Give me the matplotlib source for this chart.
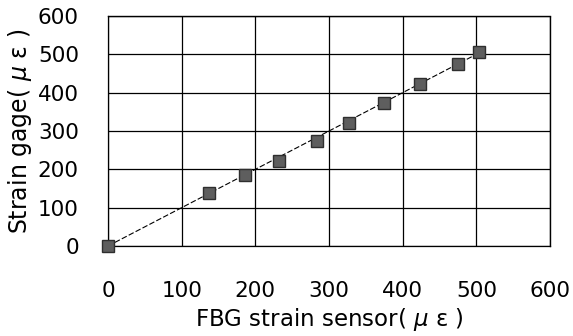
import matplotlib
matplotlib.use("Agg")
import matplotlib.pyplot as plt

# FBG strain sensor readings vs strain gage readings (micro-strain)
fbg_strain = [0, 137, 186, 232, 284, 327, 375, 424, 475, 503]
gage_strain = [0, 138, 185, 222, 274, 321, 373, 423, 475, 506]

# trend line end points
trend_x = [0, 505]
trend_y = [0, 505]

ticks = [0, 100, 200, 300, 400, 500, 600]

fam = ['DejaVu Sans', 'Noto Sans CJK JP']


def main():
    fig = plt.figure(figsize=(5.73, 3.36), dpi=100)
    ax = fig.add_axes([108 / 573, 1 - 246 / 336, 442 / 573, 230 / 336])

    ax.plot(trend_x, trend_y, color='black', lw=0.8, ls=(0, (5, 2)), zorder=2)
    ax.plot(fbg_strain, gage_strain, ls='none', marker='s', ms=9,
            markerfacecolor='#5e5e5e', markeredgecolor='#2e2e2e',
            markeredgewidth=1.0, zorder=3, clip_on=False)

    ax.set_xlim(0, 600)
    ax.set_ylim(0, 600)
    ax.set_xticks(ticks)
    ax.set_yticks(ticks)
    ax.grid(True, color='black', lw=0.9)
    ax.set_axisbelow(True)

    ax.tick_params(length=0, labelsize=15.5, pad=0)
    ax.tick_params(axis='x', pad=25)
    ax.tick_params(axis='y', pad=21)

    for s in ['top', 'right']:
        ax.spines[s].set_linestyle((0, (1, 1)))
        ax.spines[s].set_linewidth(1.0)
    for s in ['left', 'bottom']:
        ax.spines[s].set_linewidth(0.9)

    ax.set_xlabel('FBG strain sensor( $\\mu$ ε )', fontsize=16.5, family=fam,
                  labelpad=4)
    ax.set_ylabel('Strain gage( $\\mu$ ε )', fontsize=17, family=fam,
                  labelpad=3)

    fig.savefig('out.png', dpi=100)


if __name__ == "__main__":
    main()
